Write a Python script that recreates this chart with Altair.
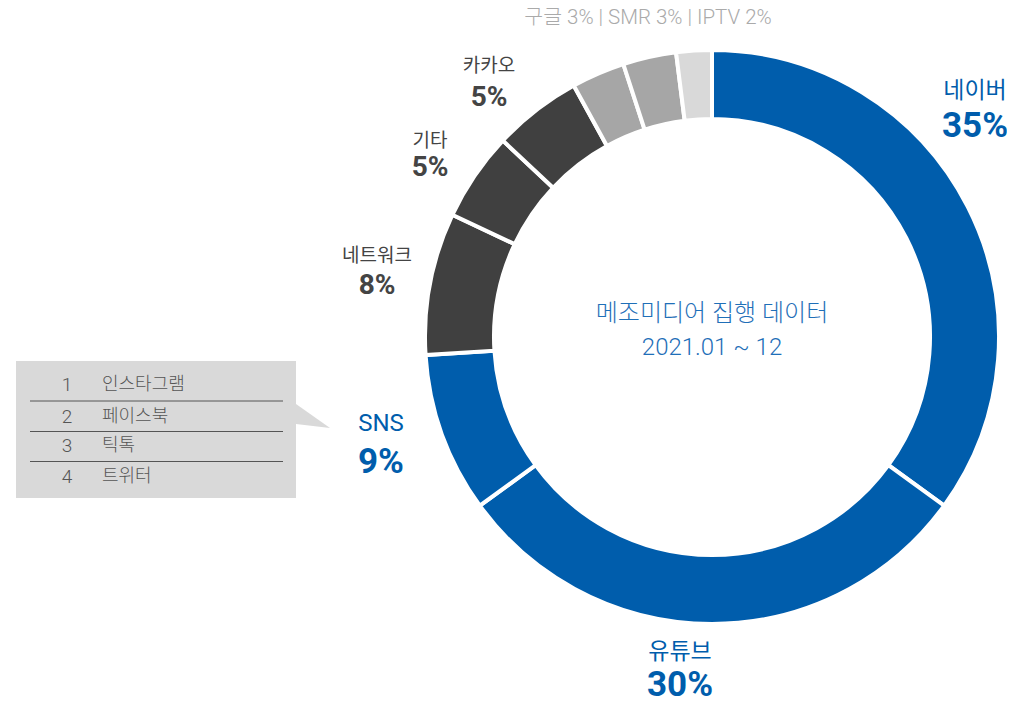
import altair as alt
import pandas as pd

# ---- data ----
categories = ["네이버", "유튜브", "SNS", "네트워크", "기타", "카카오", "구글", "SMR", "IPTV"]
shares = [35, 30, 9, 8, 5, 5, 3, 3, 2]
order_idx = list(range(len(categories)))

sns_ranks = ["1", "2", "3", "4"]
sns_names = ["인스타그램", "페이스북", "틱톡", "트위터"]

center_title = "메조미디어 집행 데이터"
center_sub = "2021.01 ~ 12"
top_note = "구글 3% | SMR 3% | IPTV 2%"

# ---- styles ----
BLUE = "#005DAC"
DARK = "#404040"
GRAY = "#A6A6A6"
LIGHT = "#D9D9D9"
seg_colors = [BLUE, BLUE, BLUE, DARK, DARK, DARK, GRAY, GRAY, LIGHT]
FONT = "Roboto, Noto Sans CJK KR"

W, H = 999, 689
CX, CY = 704, 329

df = pd.DataFrame({"cat": categories, "share": shares, "idx": order_idx})

donut = alt.Chart(df).mark_arc(
    outerRadius=287, innerRadius=218, stroke="white", strokeWidth=4
).encode(
    theta=alt.Theta("share:Q", stack=True),
    order=alt.Order("idx:Q", sort="ascending"),
    color=alt.Color("cat:N", scale=alt.Scale(domain=categories, range=seg_colors), legend=None),
    x=alt.value(CX),
    y=alt.value(CY),
)

base_txt = alt.Chart(pd.DataFrame({"a": [0]}))


def label(text, x, y, size, color, weight="normal", align="center"):
    return base_txt.mark_text(
        text=text, fontSize=size, color=color, fontWeight=weight, font=FONT,
        align=align, baseline="middle"
    ).encode(x=alt.value(x), y=alt.value(y))


def seg_label(i, x, y, y2, color, s1, s2):
    return [
        label(categories[i], x, y, s1, color),
        label(f"{shares[i]}%", x, y2, s2, color, "bold"),
    ]


layers = [donut]
layers += seg_label(0, 967, 83, 118, BLUE, 23, 35)
layers += seg_label(1, 672, 644, 677, BLUE, 23, 35)
layers += seg_label(2, 373, 416, 454, BLUE, 24, 35)
layers += seg_label(3, 369, 248, 278, "#444444", 19, 28)
layers += seg_label(4, 422, 133, 160, "#444444", 19, 28)
layers += seg_label(5, 481, 58, 90, "#444444", 19, 28)

layers.append(label(top_note, 640, 10, 20.5, "#AAAAAA", 300))
layers.append(label(center_title, 704, 306, 24, "#1F6FB8", 300))
layers.append(label(center_sub, 704, 340, 24, "#1F6FB8", 300))

# SNS detail box
box = base_txt.mark_rect(color=LIGHT).encode(
    x=alt.value(8), x2=alt.value(288), y=alt.value(353), y2=alt.value(490)
)
pointer = base_txt.mark_point(
    shape="M -1 -0.71 L 1 0.71 L -1 0.47 Z", filled=True, opacity=1,
    color=LIGHT, size=1156, strokeWidth=0
).encode(x=alt.value(305), y=alt.value(408))
layers += [box, pointer]

row_y = [377, 409, 438, 469]
for i in range(3):
    ly = (row_y[i] + row_y[i + 1]) / 2
    layers.append(
        base_txt.mark_rule(color="#555555", strokeWidth=1).encode(
            x=alt.value(22), x2=alt.value(275), y=alt.value(ly)
        )
    )
for r, n, yy in zip(sns_ranks, sns_names, row_y):
    layers.append(label(r, 59, yy, 19, "#555555", 300))
    layers.append(label(n, 94, yy, 18, "#555555", 300, align="left"))

chart = alt.layer(*layers).properties(
    width=W, height=H, autosize=alt.AutoSizeParams(type="none"), padding=0
).configure_view(stroke=None)

chart.save("out.html", embed_options={"renderer": "svg", "actions": False})
